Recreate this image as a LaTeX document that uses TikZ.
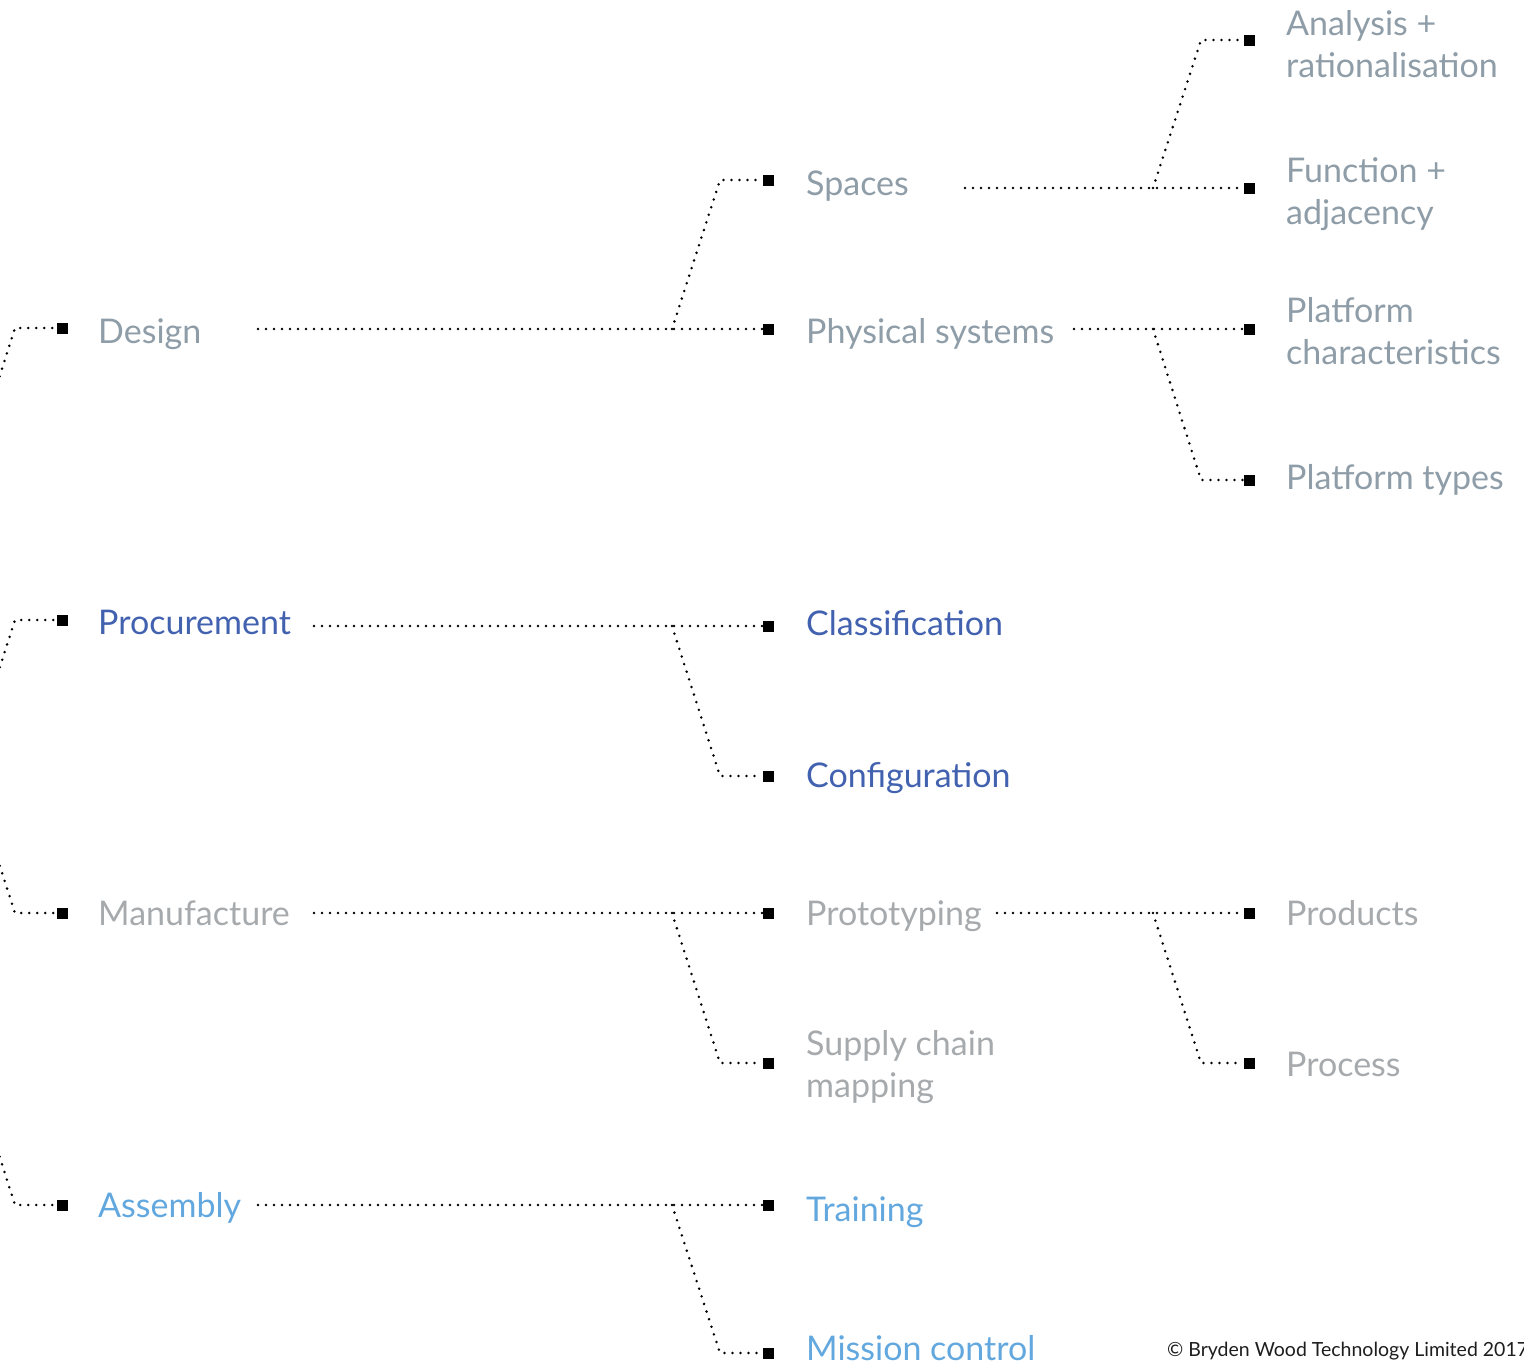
\documentclass[tikz,border=0pt]{standalone}
\usepackage{fontspec}
\setmainfont{Lato}
\definecolor{cdesign}{HTML}{8E9DA7}
\definecolor{cproc}{HTML}{4262B0}
\definecolor{cmanu}{HTML}{A6AAAD}
\definecolor{cassy}{HTML}{62A8DF}
\definecolor{ccopy}{HTML}{1E1E1E}
\begin{document}
\begin{tikzpicture}[x=1pt,y=-1pt,
  sq/.style={fill=black,minimum size=11pt,inner sep=0pt,outer sep=0pt},
  dots/.style={line width=2.8pt,line cap=round,dash pattern=on 0pt off 8pt},
  lbl/.style={anchor=base west,inner sep=0pt,align=left,
    font=\fontsize{34}{42}\selectfont},
  copytxt/.style={anchor=base west,inner sep=0pt,text=ccopy,
    font=\fontsize{19.5}{22}\selectfont}]
\useasboundingbox (0,0) rectangle (1524,1363);
\clip (0,0) rectangle (1524,1363);

% ---------- level 1 ----------
\node[sq] (s-design) at (62,328) {};
\node[sq] (s-proc)   at (62,620) {};
\node[sq] (s-manu)   at (62,913) {};
\node[sq] (s-assy)   at (62,1205) {};

\node[lbl,text=cdesign] (t-design) at (98,343)  {Design};
\node[lbl,text=cproc]   (t-proc)   at (98,634)  {Procurement};
\node[lbl,text=cmanu]   (t-manu)   at (98,925)  {Manufacture};
\node[lbl,text=cassy]   (t-assy)   at (98,1217) {Assembly};

% incoming branches from the left
\coordinate (r-design) at (-15,422);
\coordinate (k-design) at (15,328);
\coordinate (r-proc)   at (-15,713);
\coordinate (k-proc)   at (15,620);
\coordinate (r-manu)   at (-15,820);
\coordinate (k-manu)   at (15,913);
\coordinate (r-assy)   at (-15,1111);
\coordinate (k-assy)   at (15,1205);
\draw[dots] (r-design) -- (k-design) -- (s-design.west);
\draw[dots] (r-proc) -- (k-proc) -- (s-proc.west);
\draw[dots] (r-manu) -- (k-manu) -- (s-manu.west);
\draw[dots] (r-assy) -- (k-assy) -- (s-assy.west);

% ---------- level 2 ----------
\node[sq] (s-spaces)  at (768,180)  {};
\node[sq] (s-phys)    at (768,329)  {};
\node[sq] (s-class)   at (768,626)  {};
\node[sq] (s-config)  at (768,776)  {};
\node[sq] (s-proto)   at (768,913)  {};
\node[sq] (s-supply)  at (768,1063) {};
\node[sq] (s-train)   at (768,1205) {};
\node[sq] (s-mission) at (768,1353) {};

\node[lbl,text=cdesign] (t-spaces)  at (806,195)  {Spaces};
\node[lbl,text=cdesign] (t-phys)    at (806,343)  {Physical systems};
\node[lbl,text=cproc]   (t-class)   at (806,635)  {Classification};
\node[lbl,text=cproc]   (t-config)  at (806,787)  {Configuration};
\node[lbl,text=cmanu]   (t-proto)   at (806,925)  {Prototyping};
\node[lbl,text=cmanu]   (t-supply)  at (806,1097) {Supply chain\\mapping};
\node[lbl,text=cassy]   (t-train)   at (806,1221) {Training};
\node[lbl,text=cassy]   (t-mission) at (806,1360) {Mission control};

% design
\coordinate (o-design) at (258,329);
\coordinate (b-design) at (672,329);
\coordinate (c-design) at (720,180);
\draw[dots] (o-design) -- (s-phys.west);
\draw[dots] (b-design) -- (c-design) -- (s-spaces.west);
% procurement
\coordinate (o-proc) at (314,626);
\coordinate (b-proc) at (672,626);
\coordinate (c-proc) at (720,776);
\draw[dots] (o-proc) -- (s-class.west);
\draw[dots] (b-proc) -- (c-proc) -- (s-config.west);
% manufacture
\coordinate (o-manu) at (314,913);
\coordinate (b-manu) at (672,913);
\coordinate (c-manu) at (720,1063);
\draw[dots] (o-manu) -- (s-proto.west);
\draw[dots] (b-manu) -- (c-manu) -- (s-supply.west);
% assembly
\coordinate (o-assy) at (258,1205);
\coordinate (b-assy) at (672,1205);
\coordinate (c-assy) at (720,1353);
\draw[dots] (o-assy) -- (s-train.west);
\draw[dots] (b-assy) -- (c-assy) -- (s-mission.west);

% ---------- level 3 ----------
\node[sq] (s-analysis) at (1249,40)   {};
\node[sq] (s-function) at (1249,188)  {};
\node[sq] (s-pchar)    at (1249,329)  {};
\node[sq] (s-ptypes)   at (1249,480)  {};
\node[sq] (s-products) at (1249,913)  {};
\node[sq] (s-process)  at (1249,1063) {};

% two-line labels are placed by the baseline of their last line
\node[lbl,text=cdesign] (t-analysis) at (1286,77)  {Analysis +\\rationalisation};
\node[lbl,text=cdesign] (t-function) at (1286,224) {Function +\\adjacency};
\node[lbl,text=cdesign] (t-pchar)    at (1286,364) {Platform\\characteristics};
\node[lbl,text=cdesign] (t-ptypes)   at (1286,489) {Platform types};
\node[lbl,text=cmanu]   (t-products) at (1286,925) {Products};
\node[lbl,text=cmanu]   (t-process)  at (1286,1076) {Process};

% spaces
\coordinate (o-spaces) at (965,188);
\coordinate (b-spaces) at (1153,188);
\coordinate (c-spaces) at (1201,40);
\draw[dots] (o-spaces) -- (s-function.west);
\draw[dots] (b-spaces) -- (c-spaces) -- (s-analysis.west);
% physical systems
\coordinate (o-phys) at (1074,329);
\coordinate (b-phys) at (1153,329);
\coordinate (c-phys) at (1201,480);
\draw[dots] (o-phys) -- (s-pchar.west);
\draw[dots] (b-phys) -- (c-phys) -- (s-ptypes.west);
% prototyping
\coordinate (o-proto) at (997,913);
\coordinate (b-proto) at (1153,913);
\coordinate (c-proto) at (1201,1063);
\draw[dots] (o-proto) -- (s-products.west);
\draw[dots] (b-proto) -- (c-proto) -- (s-process.west);

% ---------- credit ----------
\node[copytxt] (credit) at (1167,1356) {© Bryden Wood Technology Limited 2017};
\end{tikzpicture}
\end{document}
